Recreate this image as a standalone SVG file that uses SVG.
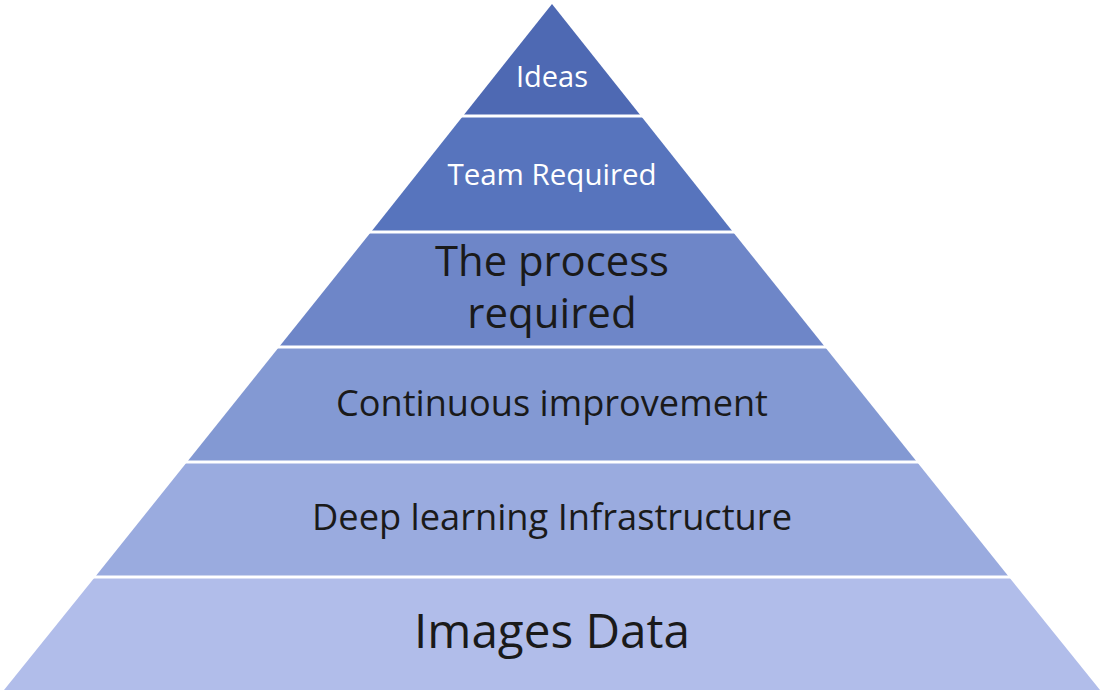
<svg xmlns="http://www.w3.org/2000/svg" width="1104" height="692" viewBox="0 0 1104 692">
  <style>
    .lbl { font-family: "Open Sans", "Noto Sans", sans-serif; text-anchor: middle; }
    .light { fill: #ffffff; }
    .dark { fill: #1a1a1a; }
    .sep { stroke: #ffffff; stroke-width: 3; }
  </style>
  <rect width="1104" height="692" fill="#ffffff"/>
  <!-- pyramid tiers, apex (552,4), base y=690 -->
  <g id="tier-ideas">
    <polygon points="552,4 641,116 463,116" fill="#4e69b3"/>
    <text class="lbl light" x="552" y="87" font-size="29">Ideas</text>
  </g>
  <g id="tier-team">
    <polygon points="463,116 641,116 733,232 371,232" fill="#5774bd"/>
    <text class="lbl light" x="552" y="185" font-size="29.5">Team Required</text>
  </g>
  <g id="tier-process">
    <polygon points="371,232 733,232 825,347 279,347" fill="#6e86c8"/>
    <text class="lbl dark" x="552" y="276" font-size="42" textLength="234" lengthAdjust="spacingAndGlyphs">The process</text>
    <text class="lbl dark" x="552" y="328" font-size="42">required</text>
  </g>
  <g id="tier-improvement">
    <polygon points="279,347 825,347 917,462 187,462" fill="#8399d3"/>
    <text class="lbl dark" x="552" y="416" font-size="36" textLength="432" lengthAdjust="spacingAndGlyphs">Continuous improvement</text>
  </g>
  <g id="tier-infrastructure">
    <polygon points="187,462 917,462 1009,577 95,577" fill="#9aabdf"/>
    <text class="lbl dark" x="552" y="530" font-size="36" textLength="480" lengthAdjust="spacingAndGlyphs">Deep learning Infrastructure</text>
  </g>
  <g id="tier-data">
    <polygon points="95,577 1009,577 1100,690 4,690" fill="#b1bdea"/>
    <text class="lbl dark" x="552" y="648" font-size="48" textLength="276" lengthAdjust="spacingAndGlyphs">Images Data</text>
  </g>
  <g id="connectors">
    <line class="sep" x1="440" y1="116" x2="664" y2="116"/>
    <line class="sep" x1="360" y1="232" x2="744" y2="232"/>
    <line class="sep" x1="270" y1="347" x2="834" y2="347"/>
    <line class="sep" x1="180" y1="462" x2="924" y2="462"/>
    <line class="sep" x1="88" y1="577" x2="1016" y2="577"/>
  </g>
</svg>
